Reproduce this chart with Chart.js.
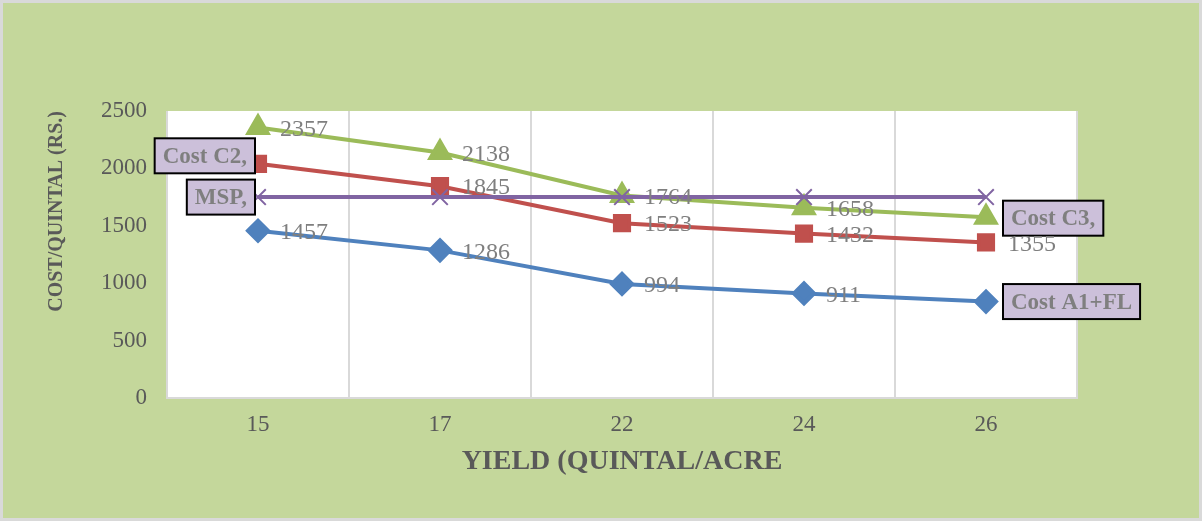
<!DOCTYPE html>
<html>
<head>
<meta charset="utf-8">
<script src="https://cdn.jsdelivr.net/npm/chart.js@4.4.1/dist/chart.umd.min.js"></script>
<style>
  html, body { margin: 0; padding: 0; background: #fff; }
  #wrap { width: 1202px; height: 521px; }
</style>
</head>
<body>
<div id="wrap"><canvas id="chart" width="1202" height="521"></canvas></div>
<script>
const yields = ['15', '17', '22', '24', '26'];
const costA1FL = [1457, 1286, 994, 911, 840];
const costC2 = [2040, 1845, 1523, 1432, 1355];
const costC3 = [2357, 2138, 1764, 1658, 1575];
const msp = [1750, 1750, 1750, 1750, 1750];

// which points get a plain value label, and where the series name box sits
const labelsA1FL = [true, true, true, true, false];
const labelsC2 = [false, true, true, true, true];
const labelsC3 = [true, true, true, true, false];
const labelsMsp = [false, false, false, false, false];

const serif = "'Liberation Serif', 'Times New Roman', serif";

const bgPlugin = {
  id: 'bg',
  beforeDraw(chart) {
    const ctx = chart.ctx;
    const a = chart.chartArea;
    ctx.save();
    ctx.fillStyle = '#C4D79B';
    ctx.fillRect(0, 0, chart.width, chart.height);
    ctx.strokeStyle = '#d9d9d9';
    ctx.lineWidth = 3;
    ctx.strokeRect(1.5, 1.5, chart.width - 3, chart.height - 3);
    ctx.fillStyle = '#ffffff';
    ctx.fillRect(a.left, a.top, a.right - a.left, a.bottom - a.top);
    ctx.restore();
  }
};

const labelPlugin = {
  id: 'valueLabels',
  afterDatasetsDraw(chart) {
    const ctx = chart.ctx;
    ctx.save();
    chart.data.datasets.forEach((ds, i) => {
      const meta = chart.getDatasetMeta(i);
      meta.data.forEach((pt, j) => {
        if (!ds.showValue[j]) return;
        ctx.font = '24px ' + serif;
        ctx.fillStyle = '#7f7f7f';
        ctx.textAlign = 'left';
        ctx.textBaseline = 'middle';
        ctx.fillText(String(ds.data[j]), pt.x + 22, pt.y + 2);
      });
      if (ds.nameBox) {
        const pt = meta.data[ds.nameBox.index];
        ctx.font = 'bold 23px ' + serif;
        const w = ctx.measureText(ds.nameBox.text).width + 16;
        const h = 35;
        const x = ds.nameBox.side === 'left' ? pt.x - 3 - w : pt.x + 17;
        const y = pt.y - h / 2 + ds.nameBox.dy;
        ctx.fillStyle = '#CCC0DA';
        ctx.fillRect(x, y, w, h);
        ctx.strokeStyle = '#000000';
        ctx.lineWidth = 2;
        ctx.strokeRect(x, y, w, h);
        ctx.fillStyle = '#7f7f7f';
        ctx.textAlign = 'center';
        ctx.textBaseline = 'middle';
        ctx.fillText(ds.nameBox.text, x + w / 2, y + h / 2 + 1);
      }
    });
    ctx.restore();
  }
};

new Chart(document.getElementById('chart'), {
  type: 'line',
  data: {
    labels: yields,
    datasets: [
      {
        label: 'MSP',
        data: msp,
        borderColor: '#8064A2',
        backgroundColor: '#8064A2',
        borderWidth: 4,
        pointStyle: 'crossRot',
        pointRadius: 11,
        pointBorderWidth: 2,
        showValue: labelsMsp,
        nameBox: { index: 0, side: 'left', text: 'MSP,', dy: 0 }
      },
      {
        label: 'Cost C3',
        data: costC3,
        borderColor: '#9BBB59',
        backgroundColor: '#9BBB59',
        borderWidth: 4,
        pointStyle: 'triangle',
        pointRadius: 11,
        showValue: labelsC3,
        nameBox: { index: 4, side: 'right', text: 'Cost C3,', dy: 1 }
      },
      {
        label: 'Cost C2',
        data: costC2,
        borderColor: '#C0504D',
        backgroundColor: '#C0504D',
        borderWidth: 4,
        pointStyle: 'rect',
        pointRadius: 10,
        showValue: labelsC2,
        nameBox: { index: 0, side: 'left', text: 'Cost C2,', dy: -8 }
      },
      {
        label: 'Cost A1+FL',
        data: costA1FL,
        borderColor: '#4F81BD',
        backgroundColor: '#4F81BD',
        borderWidth: 4,
        pointStyle: 'rectRot',
        pointRadius: 10,
        showValue: labelsA1FL,
        nameBox: { index: 4, side: 'right', text: 'Cost A1+FL', dy: 0 }
      }
    ]
  },
  options: {
    responsive: false,
    animation: false,
    layout: { padding: { left: 38, right: 125, top: 111, bottom: 40 } },
    plugins: { legend: { display: false }, tooltip: { enabled: false } },
    elements: { line: { tension: 0 } },
    scales: {
      x: {
        offset: true,
        grid: { offset: true, color: '#d9d9d9', lineWidth: 2, drawTicks: false },
        border: { display: true, color: '#d9d9d9', width: 2 },
        ticks: { color: '#595959', font: { family: serif, size: 23 }, padding: 13 },
        title: {
          display: true,
          text: 'YIELD (QUINTAL/ACRE',
          color: '#595959',
          font: { family: serif, size: 28, weight: 'bold' },
          padding: { top: 2, bottom: 2 }
        },
        afterFit(axis) { axis.height = 83; }
      },
      y: {
        min: 0,
        max: 2500,
        grid: { display: false, drawTicks: false },
        border: { display: false },
        ticks: {
          stepSize: 500,
          color: '#595959',
          font: { family: serif, size: 23 },
          padding: 20,
          callback: (v) => String(v)
        },
        title: {
          display: true,
          text: 'COST/QUINTAL (RS.)',
          color: '#595959',
          align: 'end',
          font: { family: serif, size: 20, weight: 'bold' },
          padding: { top: 7, bottom: 0 }
        },
        afterFit(axis) { axis.width = 129; }
      }
    }
  },
  plugins: [bgPlugin, labelPlugin]
});
</script>
</body>
</html>
